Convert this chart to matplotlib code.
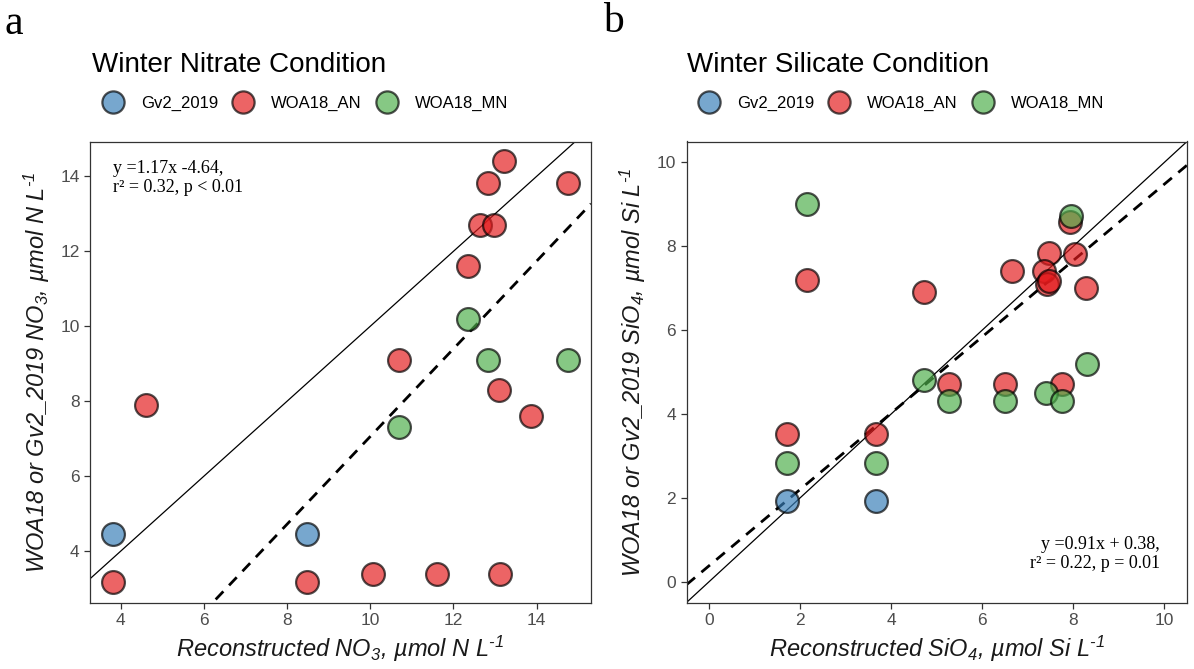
import numpy as np
import matplotlib
matplotlib.use("Agg")
import matplotlib.pyplot as plt
from matplotlib.lines import Line2D

plt.rcParams['font.family'] = ['Liberation Sans', 'DejaVu Sans']
plt.rcParams['mathtext.default'] = 'regular'

# Winter nitrate: reconstructed (x) vs climatology (y)
no3_gv2_x = [3.82, 8.49]
no3_gv2_y = [4.45, 4.45]
no3_an_x = [3.82, 8.49, 10.06, 11.60, 13.13, 4.62, 10.68, 13.09, 13.86,
            12.34, 12.64, 12.97, 12.82, 13.21, 14.76]
no3_an_y = [3.18, 3.18, 3.40, 3.40, 3.40, 7.91, 9.11, 8.31, 7.62,
            11.62, 12.71, 12.71, 13.81, 14.40, 13.81]
no3_mn_x = [10.68, 12.34, 12.82, 14.76]
no3_mn_y = [7.31, 10.20, 9.11, 9.11]

# Winter silicate
si_gv2_x = [1.70, 3.66]
si_gv2_y = [1.93, 1.93]
si_an_x = [1.70, 3.66, 2.14, 4.72, 5.26, 6.50, 6.66, 7.46, 7.35, 7.42,
           7.46, 8.03, 8.28, 7.93, 7.75]
si_an_y = [3.52, 3.52, 7.20, 6.90, 4.71, 4.71, 7.42, 7.83, 7.42, 7.10,
           7.16, 7.82, 7.01, 8.57, 4.71]
si_mn_x = [1.70, 3.66, 2.14, 4.72, 5.26, 6.50, 7.40, 7.75, 8.30, 7.95]
si_mn_y = [2.82, 2.82, 9.01, 4.80, 4.31, 4.31, 4.51, 4.31, 5.20, 8.73]

fits = {'no3': (1.17, -4.64), 'si': (0.91, 0.38)}
labels = ['Gv2_2019', 'WOA18_AN', 'WOA18_MN']
colors = ['#377EB8', '#E41A1C', '#4DAF4A']

fig = plt.figure(figsize=(11.94, 6.69), dpi=100)
W, H = 1194, 669
ax1 = fig.add_axes([90 / W, 66.5 / H, 501 / W, 461 / H])
ax2 = fig.add_axes([686.5 / W, 66.5 / H, 500.5 / W, 461 / H])


def style(ax):
    for sp in ax.spines.values():
        sp.set_color('#333333')
        sp.set_linewidth(0.9)
    ax.tick_params(colors='#333333', labelcolor='#4D4D4D', labelsize=12.5,
                   length=4, width=0.9)


def panel(ax, series, fit, xlim, ylim):
    ax.set_xlim(xlim)
    ax.set_ylim(ylim)
    lo = min(xlim[0], ylim[0])
    hi = max(xlim[1], ylim[1])
    xx = np.array([lo, hi])
    ax.plot(xx, xx, color='black', lw=0.9, zorder=1)
    ax.plot(xx, fit[0] * xx + fit[1], color='black', lw=2, ls=(0, (4, 3)), zorder=1)
    for (x, y), c in zip(series, colors):
        ax.scatter(x, y, s=270, c=c, edgecolors='black', linewidths=1.6,
                   alpha=0.68, zorder=3)
    style(ax)


panel(ax1, [(no3_gv2_x, no3_gv2_y), (no3_an_x, no3_an_y), (no3_mn_x, no3_mn_y)],
      fits['no3'], (3.267, 15.305), (2.635, 14.928))
ax1.set_xticks([4, 6, 8, 10, 12, 14])
ax1.set_yticks([4, 6, 8, 10, 12, 14])
panel(ax2, [(si_gv2_x, si_gv2_y), (si_an_x, si_an_y), (si_mn_x, si_mn_y)],
      fits['si'], (-0.5, 10.5), (-0.5, 10.5))
ax2.set_xticks([0, 2, 4, 6, 8, 10])
ax2.set_yticks([0, 2, 4, 6, 8, 10])

lab_kw = dict(fontsize=17, style='italic', color='#1a1a1a')
ax1.set_xlabel('Reconstructed NO$_3$, µmol N L$^{‐1}$', labelpad=4, **lab_kw)
ax1.set_ylabel('WOA18 or Gv2_2019 NO$_3$, µmol N L$^{‐1}$', labelpad=6, **lab_kw)
ax2.set_xlabel('Reconstructed SiO$_4$, µmol Si L$^{‐1}$', labelpad=4, **lab_kw)
ax2.set_ylabel('WOA18 or Gv2_2019 SiO$_4$, µmol Si L$^{‐1}$', labelpad=6, **lab_kw)

serif = ['Liberation Serif', 'DejaVu Serif']
ax1.text(0.046, 0.96, 'y =%.2fx %.2f,\nr² = 0.32, p < 0.01' % fits['no3'],
         transform=ax1.transAxes, ha='left', va='top', fontsize=13,
         family=serif, linespacing=1.15)
ax2.text(0.946, 0.105, 'y =%.2fx + %.2f,\nr² = 0.22, p = 0.01' % fits['si'],
         transform=ax2.transAxes, ha='right', va='center', fontsize=13,
         family=serif, linespacing=1.15, multialignment='right')

# panel titles, letters and legends
fig.text(92 / W, 1 - 65 / H, 'Winter Nitrate Condition', fontsize=20, va='center')
fig.text(687 / W, 1 - 65 / H, 'Winter Silicate Condition', fontsize=20, va='center')
fig.text(5 / W, 1 - 24 / H, 'a', fontsize=30, family=serif, va='center')
fig.text(603 / W, 1 - 22 / H, 'b', fontsize=30, family=serif, va='center')

handles = [Line2D([], [], ls='none', marker='o', markersize=16, markerfacecolor=c,
                  markeredgecolor='black', markeredgewidth=1.6, alpha=0.68)
           for c in colors]
for x0 in (100, 696):
    fig.legend(handles, labels, loc='center left', bbox_to_anchor=(x0 / W, 1 - 103 / H),
               ncol=3, frameon=False, fontsize=12, handletextpad=0.95,
               columnspacing=0.75, handlelength=1.5, borderpad=0, borderaxespad=0)

fig.savefig('out.png', dpi=100)
